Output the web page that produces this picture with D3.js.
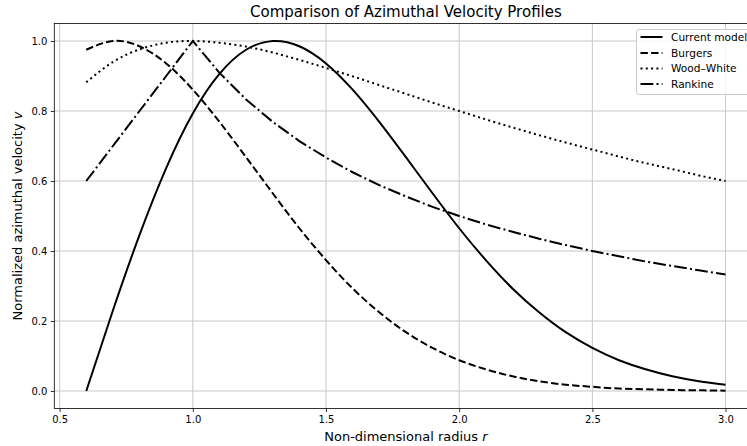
<!DOCTYPE html>
<html>
<head>
<meta charset="utf-8">
<script src="https://cdn.jsdelivr.net/npm/d3@7"></script>
<style>
  html, body { margin: 0; padding: 0; background: #fff; overflow: hidden; }
  svg { display: block; font-family: "DejaVu Sans", sans-serif; }
</style>
</head>
<body>
<svg id="chart" width="747" height="446"></svg>
<script>
// ---- data ----
const radius = [0.6,0.7,0.8,0.9,1.0,1.1,1.2,1.3,1.4,1.5,1.6,1.7,1.8,1.9,2.0,2.1,2.2,2.3,2.4,2.5,2.6,2.7,2.8,2.9,3.0];
const currentModel = [0.000,0.230,0.446,0.637,0.793,0.906,0.975,1.000,0.985,0.936,0.861,0.769,0.668,0.565,0.465,0.374,0.293,0.225,0.168,0.123,0.088,0.062,0.042,0.028,0.018];
const burgers = [0.975,1.000,0.985,0.936,0.861,0.769,0.668,0.565,0.465,0.374,0.293,0.225,0.168,0.123,0.088,0.062,0.042,0.028,0.018,0.012,0.007,0.005,0.003,0.002,0.001];
const woodWhite = [0.882,0.940,0.976,0.995,1.000,0.995,0.984,0.967,0.946,0.923,0.899,0.874,0.849,0.824,0.800,0.776,0.753,0.731,0.710,0.690,0.670,0.651,0.634,0.616,0.600];
const rankine = [0.600,0.700,0.800,0.900,1.000,0.909,0.833,0.769,0.714,0.667,0.625,0.588,0.556,0.526,0.500,0.476,0.455,0.435,0.417,0.400,0.385,0.370,0.357,0.345,0.333];
const seriesNames = ["Current model","Burgers","Wood\u2013White","Rankine"];
const xTicks = [0.5,1.0,1.5,2.0,2.5,3.0];
const yTicks = [0.0,0.2,0.4,0.6,0.8,1.0];

// ---- layout ----
const svg = d3.select("#chart");
const pL = 54.3, pR = 757.5, pT = 23.5, pB = 408.5;
const x = d3.scaleLinear().domain([0.48, 3.12]).range([pL, pR]);
const y = d3.scaleLinear().domain([-0.05, 1.05]).range([pB, pT]);

// grid
const grid = svg.append("g");
grid.selectAll("line.gx").data(xTicks).join("line")
  .attr("x1", d => x(d)).attr("x2", d => x(d)).attr("y1", pT).attr("y2", pB)
  .attr("stroke", "#c8c8c8").attr("stroke-width", 1);
grid.selectAll("line.gy").data(yTicks).join("line")
  .attr("x1", pL).attr("x2", pR).attr("y1", d => y(d)).attr("y2", d => y(d))
  .attr("stroke", "#c8c8c8").attr("stroke-width", 1);

// series
const styles = [
  { data: currentModel, dash: null, curve: d3.curveNatural },
  { data: burgers, dash: "7.4,3.2", curve: d3.curveNatural },
  { data: woodWhite, dash: "2,3.3", curve: d3.curveNatural },
  { data: rankine, dash: "12.8,3.2,2,3.2", curve: d3.curveLinear }
];
styles.forEach(s => {
  const pts = radius.map((r, i) => [r, s.data[i]]);
  const line = d3.line().x(d => x(d[0])).y(d => y(d[1])).curve(s.curve);
  svg.append("path").attr("d", line(pts))
    .attr("fill", "none").attr("stroke", "#000").attr("stroke-width", 2)
    .attr("stroke-dasharray", s.dash);
});

// axes
const xAxis = d3.axisBottom(x).tickValues(xTicks).tickFormat(d3.format(".1f")).tickSize(3.5).tickPadding(3.5);
const yAxis = d3.axisLeft(y).tickValues(yTicks).tickFormat(d3.format(".1f")).tickSize(3.5).tickPadding(3.5);
const gx = svg.append("g").attr("transform", `translate(0,${pB})`).call(xAxis);
const gy = svg.append("g").attr("transform", `translate(${pL},0)`).call(yAxis);
[gx, gy].forEach(g => {
  g.select(".domain").remove();
  g.selectAll(".tick line").attr("stroke", "#000").attr("stroke-width", 0.8);
  g.selectAll(".tick text").attr("fill", "#000").style("font-size", "10px").style("font-family", "DejaVu Sans");
});
// spines
svg.append("rect").attr("x", pL).attr("y", pT).attr("width", pR - pL).attr("height", pB - pT)
  .attr("fill", "none").attr("stroke", "#000").attr("stroke-width", 0.8);

// title & labels
svg.append("text").attr("x", (pL + pR) / 2).attr("y", 17).attr("text-anchor", "middle")
  .style("font-size", "15px").text("Comparison of Azimuthal Velocity Profiles");
const xl = svg.append("text").attr("x", (pL + pR) / 2).attr("y", 441).attr("text-anchor", "middle")
  .style("font-size", "13px");
xl.append("tspan").text("Non-dimensional radius ");
xl.append("tspan").style("font-style", "italic").text("r");
const yl = svg.append("text").attr("transform", `translate(22,${(pT + pB) / 2}) rotate(-90)`)
  .attr("text-anchor", "middle").style("font-size", "13px");
yl.append("tspan").text("Normalized azimuthal velocity ");
yl.append("tspan").style("font-style", "italic").text("v");

// legend
const lg = svg.append("g");
lg.append("rect").attr("x", 636.5).attr("y", 29.5).attr("width", 115).attr("height", 65)
  .attr("rx", 2.5).attr("fill", "#fff").attr("fill-opacity", 0.8)
  .attr("stroke", "#cccccc").attr("stroke-width", 1);
const rowY = [37, 53, 68.5, 84];
seriesNames.forEach((name, i) => {
  lg.append("line").attr("x1", 640.5).attr("x2", 662.5).attr("y1", rowY[i]).attr("y2", rowY[i])
    .attr("stroke", "#000").attr("stroke-width", 2).attr("stroke-dasharray", styles[i].dash);
  lg.append("text").attr("x", 671).attr("y", rowY[i]).attr("dy", "0.35em")
    .style("font-size", "10.6px").text(name);
});
</script>
</body>
</html>
